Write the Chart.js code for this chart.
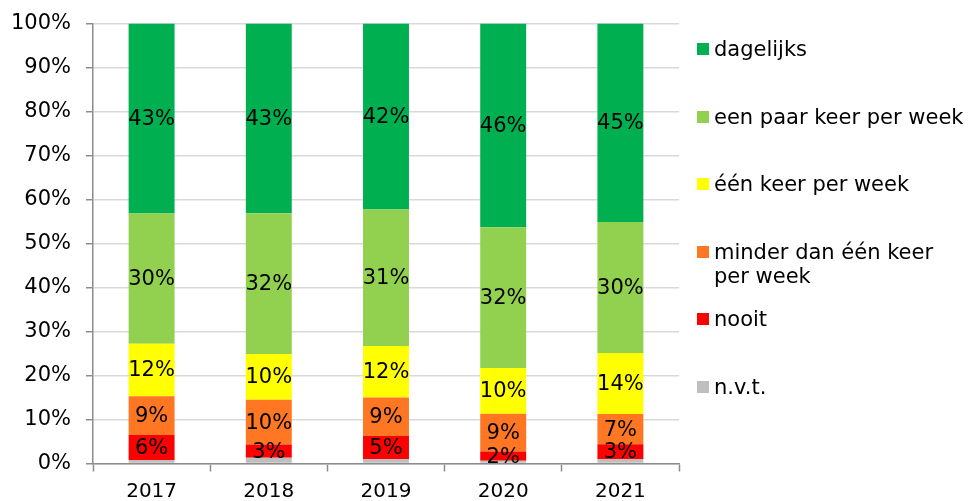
<!DOCTYPE html>
<html>
<head>
<meta charset="utf-8">
<script src="https://cdn.jsdelivr.net/npm/chart.js@4/dist/chart.umd.min.js"></script>
<style>
	body { margin: 0; background: #fff; }
	#wrap { position: relative; width: 971px; height: 501px; }
	#legend { position: absolute; left: 697px; top: 0; font-family: "DejaVu Sans", Verdana, sans-serif; font-size: 21px; color: #000; }
	#legend .item { position: absolute; left: 0; width: 274px; }
	#legend .box { position: absolute; left: 0; width: 12px; height: 12px; }
	#legend .txt { position: absolute; left: 17px; width: 250px; line-height: 24px; white-space: normal; }
</style>
</head>
<body>
<div id="wrap">
	<canvas id="chart"></canvas>
	<div id="legend"></div>
</div>
<script>
// years on the x axis
var years = ['2017', '2018', '2019', '2020', '2021'];

// series, bottom to top of the stack (percent)
var nvt          = [0.8, 1.3, 1.0, 0.6, 1.0];
var nooit        = [5.7, 3.0, 5.25, 2.1, 3.4];
var minderDan    = [8.8, 10.2, 8.75, 8.6, 6.85];
var eenKeer      = [11.9, 10.4, 11.7, 10.4, 13.85];
var eenPaarKeer  = [29.6, 32.0, 31.0, 32.0, 29.8];
var dagelijks    = [43.2, 43.1, 42.3, 46.3, 45.1];

var seriesNames = ['n.v.t.', 'nooit', 'minder dan één keer per week', 'één keer per week', 'een paar keer per week', 'dagelijks'];
var seriesColors = ['#bfbfbf', '#ff0000', '#ff7722', '#ffff00', '#92d050', '#00b050'];
var seriesValues = [nvt, nooit, minderDan, eenKeer, eenPaarKeer, dagelijks];

// y ticks
var yTicks = [0, 10, 20, 30, 40, 50, 60, 70, 80, 90, 100];

var FONT = '"DejaVu Sans", Verdana, sans-serif';

// labels in the middle of each segment (not for n.v.t.)
var segmentLabels = {
	id: 'segmentLabels',
	afterDatasetsDraw: function(chart){
		var ctx = chart.ctx;
		ctx.save();
		ctx.font = '21px ' + FONT;
		ctx.fillStyle = '#000';
		ctx.textAlign = 'center';
		ctx.textBaseline = 'middle';
		chart.data.datasets.forEach(function(ds, i){
			if(i == 0) return;
			var meta = chart.getDatasetMeta(i);
			meta.data.forEach(function(bar, j){
				var v = ds.data[j];
				ctx.fillText(Math.round(v) + '%', bar.x, (bar.y + bar.base) / 2 + 1);
			});
		});
		ctx.restore();
	}
};

var datasets = seriesNames.map(function(name, i){
	return {
		label: name,
		data: seriesValues[i],
		backgroundColor: seriesColors[i],
		borderWidth: 0,
		barPercentage: 0.392,
		categoryPercentage: 1
	};
});

var config = {
	type: 'bar',
	data: { labels: years, datasets: datasets },
	options: {
		responsive: true,
		maintainAspectRatio: false,
		animation: false,
		layout: { padding: { top: 23.5, right: 292, bottom: 0, left: 0 } },
		plugins: {
			legend: { display: false },
			tooltip: { enabled: false }
		},
		scales: {
			x: {
				stacked: true,
				afterFit: function(scale){
					scale.height = 37.5;
					scale.paddingLeft = 0;
					scale.paddingRight = 0;
				},
				grid: { offset: true, drawOnChartArea: false, drawTicks: true, tickLength: 8, tickColor: '#8c8c8c', tickWidth: 1.5 },
				border: { color: '#8c8c8c', width: 1.5 },
				ticks: { font: { family: FONT, size: 20 }, color: '#000', padding: 8 }
			},
			y: {
				stacked: true,
				min: 0,
				max: 100,
				afterFit: function(scale){
					scale.width = 93;
					scale.paddingTop = 0;
					scale.paddingBottom = 0;
				},
				afterBuildTicks: function(scale){ scale.ticks = yTicks.map(function(v){ return { value: v }; }); },
				grid: { color: '#d9d9d9', lineWidth: 1.5, borderDash: [8, 6], drawTicks: true, tickLength: 7, tickColor: '#8c8c8c', tickWidth: 1.5, tickBorderDash: [] },
				border: { color: '#8c8c8c', width: 1.5, dash: [] },
				ticks: {
					font: { family: FONT, size: 21 },
					color: '#000',
					padding: 15,
					callback: function(v){ return v + '%'; }
				}
			}
		}
	},
	plugins: [segmentLabels]
};

var chart = new Chart(document.getElementById('chart'), config);

// legend on the right, top to bottom = top of stack first
var legend = document.getElementById('legend');
var order = seriesNames.map(function(n, i){ return i; }).reverse();
order.forEach(function(idx, k){
	var cy = 49 + k * 67.5;
	var item = document.createElement('div');
	item.className = 'item';
	item.style.top = (cy - 6) + 'px';
	item.innerHTML = '<div class="box" style="background:' + seriesColors[idx] + '"></div>' +
		'<div class="txt" style="top:-6px">' + seriesNames[idx] + '</div>';
	legend.appendChild(item);
});
</script>
</body>
</html>
